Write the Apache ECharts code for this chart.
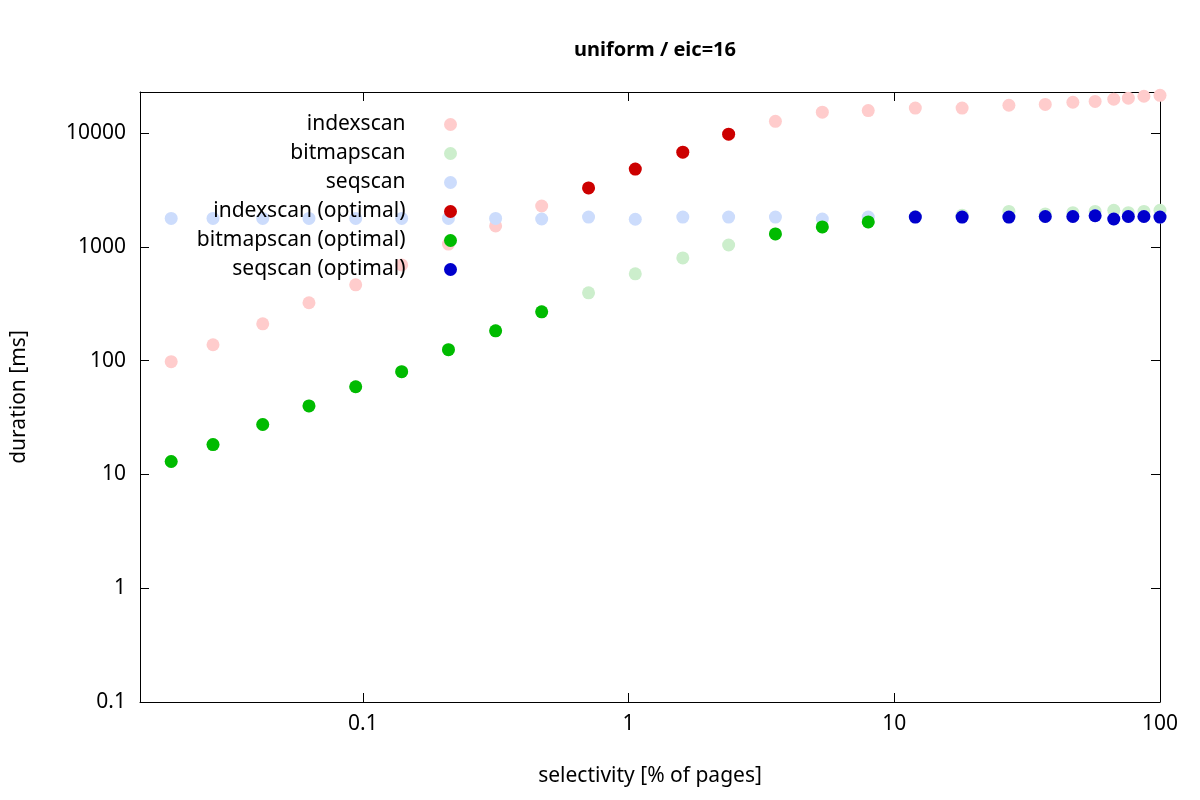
<!DOCTYPE html>
<html><head><meta charset="utf-8">
<script src="https://cdn.jsdelivr.net/npm/echarts@6/dist/echarts.min.js"></script>
<style>html,body{margin:0;padding:0;background:#fff}#c{width:1200px;height:800px}</style>
</head><body><div id="c"></div>
<script>
const sel = [0.019,0.0273,0.042,0.0627,0.094,0.14,0.21,0.316,0.471,0.707,1.06,1.6,2.38,3.57,5.36,7.98,12,18,27,37,47,57,67,76,87,100];
const indexscan = [98,138,211,323,464,695,1060,1530,2290,3300,4830,6800,9800,12700,15300,15800,16600,16600,17600,17900,18700,19000,19900,20300,21100,21500];
const bitmapscan = [13,18.3,27.5,40,59,80,125,183,269,395,580,800,1040,1300,1500,1660,1850,1900,2050,1950,2000,2050,2100,2000,2050,2100];
const seqscan = [1780,1780,1780,1780,1780,1780,1780,1780,1760,1830,1750,1830,1830,1830,1760,1830,1830,1830,1830,1850,1850,1880,1760,1850,1850,1830];
// which scan is optimal at each selectivity: i=index, b=bitmap, s=seq
const optimal = ['b','b','b','b','b','b','b','b','b','i','i','i','i','b','b','b','s','s','s','s','s','s','s','s','s','s'];
const pts = arr => sel.map((x,i)=>[x,arr[i]]);
const opt = (arr,k) => sel.map((x,i)=>optimal[i]===k?[x,arr[i]]:null).filter(Boolean);
const fmt = v => { const l=Math.log10(v); if (Math.abs(l-Math.round(l))>1e-6) return ''; return Math.round(l)<0 ? String(Number(v.toPrecision(1))) : String(Math.round(v)); };
const F = 'Noto Sans';
const FS = 21;
const ax = {
  axisLine:{lineStyle:{color:'#000',width:1}},
  axisTick:{inside:true,length:9,lineStyle:{color:'#000'}},
  splitLine:{show:false}
};
const mk = (name,data,color) => ({name,type:'scatter',data,symbolSize:13,itemStyle:{color,opacity:1},z:2});
const chart = echarts.init(document.getElementById('c'));
chart.setOption({
  animation:false,
  textStyle:{fontFamily:F},
  title:{text:'uniform / eic=16',left:650,top:35,textAlign:'center',textStyle:{fontFamily:F,fontSize:20,fontWeight:'bold',color:'#000'}},
  grid:{left:140,right:40,top:92,bottom:98},
  legend:{orient:'vertical',align:'right',right:738,top:109,itemWidth:80,itemHeight:13,itemGap:8,icon:'circle',
    textStyle:{fontFamily:F,fontSize:FS,color:'#000'}},
  xAxis:[
    Object.assign({type:'log',logBase:10,min:0.0145,max:100,name:'selectivity [% of pages]',nameLocation:'middle',nameGap:64,
      nameTextStyle:{fontFamily:F,fontSize:FS,color:'#000'},
      axisLabel:{formatter:fmt,fontFamily:F,fontSize:FS,color:'#000',margin:12,showMinLabel:false}},ax),
    Object.assign({type:'log',logBase:10,min:0.0145,max:100,position:'top',axisLabel:{show:false}},ax)
  ],
  yAxis:[
    Object.assign({type:'log',logBase:10,min:0.1,max:23000,name:'duration [ms]',nameLocation:'middle',nameGap:110,
      nameTextStyle:{fontFamily:F,fontSize:FS,color:'#000'},
      axisLabel:{formatter:fmt,fontFamily:F,fontSize:FS,color:'#000',margin:14,showMaxLabel:false}},ax),
    Object.assign({type:'log',logBase:10,min:0.1,max:23000,position:'right',axisLabel:{show:false}},ax)
  ],
  series:[
    mk('indexscan',pts(indexscan),'#ffcccc'),
    mk('bitmapscan',pts(bitmapscan),'#cceecc'),
    mk('seqscan',pts(seqscan),'#ccdcfc'),
    mk('indexscan (optimal)',opt(indexscan,'i'),'#cc0000'),
    mk('bitmapscan (optimal)',opt(bitmapscan,'b'),'#00bb00'),
    mk('seqscan (optimal)',opt(seqscan,'s'),'#0000cc')
  ]
});
</script></body></html>
